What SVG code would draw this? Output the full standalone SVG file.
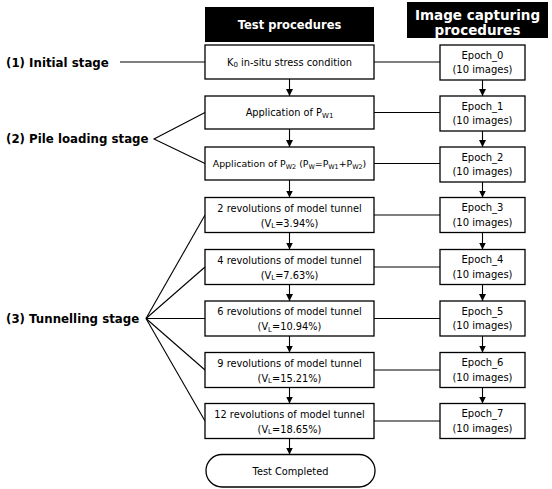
<svg xmlns="http://www.w3.org/2000/svg" width="552" height="489" viewBox="0 0 552 489">
<defs>
<marker id="ah" markerUnits="userSpaceOnUse" markerWidth="7" markerHeight="7" viewBox="0 0 7 7" refX="7" refY="3.5" orient="auto">
<path d="M0,0 L7,3.5 L0,7 Z" fill="#000"/>
</marker>
<style>
.box{fill:#fff;stroke:#000;stroke-width:1.3}
.hdr{fill:#000}
.ht{font-family:"DejaVu Sans",sans-serif;font-weight:bold;fill:#fff;text-anchor:middle}
.t{font-family:"DejaVu Sans",sans-serif;font-size:9.8px;fill:#000;text-anchor:middle}
.e{font-family:"DejaVu Sans",sans-serif;font-size:10px;fill:#000;text-anchor:middle}
.st{font-family:"DejaVu Sans",sans-serif;font-weight:bold;font-size:11.8px;fill:#000}
.sub{font-size:7px}
.ln{stroke:#000;stroke-width:1.1;fill:none}
.ar{stroke:#000;stroke-width:1.1;fill:none;marker-end:url(#ah)}
</style>
</defs>
<rect width="552" height="489" fill="#fff"/>

<g id="hdr-test">
<rect class="hdr" x="205" y="7" width="169" height="35"/>
<text class="ht" x="289.5" y="28.5" font-size="11.5">Test procedures</text>
</g>
<g id="hdr-image">
<rect class="hdr" x="407" y="2" width="141" height="36"/>
<text class="ht" x="477.5" y="19.5" font-size="13.5">Image capturing</text>
<text class="ht" x="477.5" y="34.5" font-size="13.5">procedures</text>
</g>

<g id="connectors">
<line class="ln" x1="120" y1="62" x2="205" y2="62"/>
<polyline class="ln" points="205,112.5 154,139 205,163.5"/>
<line class="ln" x1="146" y1="318.5" x2="205" y2="215"/>
<line class="ln" x1="146" y1="318.5" x2="205" y2="267"/>
<line class="ln" x1="146" y1="318.5" x2="205" y2="318.5"/>
<line class="ln" x1="146" y1="318.5" x2="205" y2="370"/>
<line class="ln" x1="146" y1="318.5" x2="205" y2="421"/>

<line class="ln" x1="374" y1="62" x2="440" y2="62"/>
<line class="ln" x1="374" y1="112.5" x2="440" y2="112.5"/>
<line class="ln" x1="374" y1="163.5" x2="440" y2="163.5"/>
<line class="ln" x1="374" y1="215" x2="440" y2="215"/>
<line class="ln" x1="374" y1="267" x2="440" y2="267"/>
<line class="ln" x1="374" y1="318.5" x2="440" y2="318.5"/>
<line class="ln" x1="374" y1="370" x2="440" y2="370"/>
<line class="ln" x1="374" y1="421" x2="440" y2="421"/>

<line class="ar" x1="289.5" y1="79" x2="289.5" y2="96"/>
<line class="ar" x1="289.5" y1="129" x2="289.5" y2="147"/>
<line class="ar" x1="289.5" y1="180" x2="289.5" y2="197.5"/>
<line class="ar" x1="289.5" y1="232.5" x2="289.5" y2="249.5"/>
<line class="ar" x1="289.5" y1="284.5" x2="289.5" y2="301"/>
<line class="ar" x1="289.5" y1="336" x2="289.5" y2="352.5"/>
<line class="ar" x1="289.5" y1="387.5" x2="289.5" y2="403.5"/>
<line class="ar" x1="289.5" y1="438.5" x2="289.5" y2="454.5"/>

<line class="ar" x1="482.5" y1="80" x2="482.5" y2="96"/>
<line class="ar" x1="482.5" y1="131" x2="482.5" y2="147"/>
<line class="ar" x1="482.5" y1="182" x2="482.5" y2="197.5"/>
<line class="ar" x1="482.5" y1="232.5" x2="482.5" y2="249.5"/>
<line class="ar" x1="482.5" y1="284.5" x2="482.5" y2="301"/>
<line class="ar" x1="482.5" y1="336" x2="482.5" y2="352.5"/>
<line class="ar" x1="482.5" y1="387.5" x2="482.5" y2="403.5"/>
</g>

<g id="stage1"><text class="st" x="6" y="66.5">(1) Initial stage</text></g>
<g id="stage2"><text class="st" x="6" y="143">(2) Pile loading stage</text></g>
<g id="stage3"><text class="st" x="6" y="322.5">(3) Tunnelling stage</text></g>

<g id="k0">
<rect class="box" x="205" y="45" width="169" height="34"/>
<text class="t" x="289.5" y="65.5">K<tspan class="sub" dy="1.5">0</tspan><tspan dy="-1.5"> in-situ stress condition</tspan></text>
</g>
<g id="pw1">
<rect class="box" x="205" y="96" width="169" height="33"/>
<text class="t" x="289.5" y="116">Application of P<tspan class="sub" dy="1.5">W1</tspan></text>
</g>
<g id="pw2">
<rect class="box" x="205" y="147" width="169" height="33"/>
<text class="t" x="289.5" y="167" style="font-size:9.4px">Application of P<tspan style="font-size:6.4px" dy="1.5">W2</tspan><tspan dy="-1.5"> (P</tspan><tspan style="font-size:6.4px" dy="1.5">W</tspan><tspan dy="-1.5">=P</tspan><tspan style="font-size:6.4px" dy="1.5">W1</tspan><tspan dy="-1.5">+P</tspan><tspan style="font-size:6.4px" dy="1.5">W2</tspan><tspan dy="-1.5">)</tspan></text>
</g>
<g id="rev2">
<rect class="box" x="205" y="197.5" width="169" height="35"/>
<text class="t" x="289.5" y="211.5">2 revolutions of model tunnel</text>
<text class="t" x="289.5" y="226.5">(V<tspan class="sub" dy="1.5">L</tspan><tspan dy="-1.5">=3.94%)</tspan></text>
</g>
<g id="rev4">
<rect class="box" x="205" y="249.5" width="169" height="35"/>
<text class="t" x="289.5" y="263.5">4 revolutions of model tunnel</text>
<text class="t" x="289.5" y="278.5">(V<tspan class="sub" dy="1.5">L</tspan><tspan dy="-1.5">=7.63%)</tspan></text>
</g>
<g id="rev6">
<rect class="box" x="205" y="301" width="169" height="35"/>
<text class="t" x="289.5" y="315">6 revolutions of model tunnel</text>
<text class="t" x="289.5" y="330">(V<tspan class="sub" dy="1.5">L</tspan><tspan dy="-1.5">=10.94%)</tspan></text>
</g>
<g id="rev9">
<rect class="box" x="205" y="352.5" width="169" height="35"/>
<text class="t" x="289.5" y="366.5">9 revolutions of model tunnel</text>
<text class="t" x="289.5" y="381.5">(V<tspan class="sub" dy="1.5">L</tspan><tspan dy="-1.5">=15.21%)</tspan></text>
</g>
<g id="rev12">
<rect class="box" x="205" y="403.5" width="169" height="35"/>
<text class="t" x="289.5" y="417.5">12 revolutions of model tunnel</text>
<text class="t" x="289.5" y="432.5">(V<tspan class="sub" dy="1.5">L</tspan><tspan dy="-1.5">=18.65%)</tspan></text>
</g>
<g id="done">
<rect class="box" x="206" y="454.5" width="169" height="32.5" rx="16" ry="16"/>
<text class="t" x="290.5" y="474.5">Test Completed</text>
</g>

<g id="epoch0"><rect class="box" x="440" y="45" width="85" height="35"/>
<text class="e" x="482.5" y="58.5">Epoch_0</text><text class="e" x="482.5" y="73">(10 images)</text></g>
<g id="epoch1"><rect class="box" x="440" y="96" width="85" height="35"/>
<text class="e" x="482.5" y="109.5">Epoch_1</text><text class="e" x="482.5" y="124">(10 images)</text></g>
<g id="epoch2"><rect class="box" x="440" y="147" width="85" height="35"/>
<text class="e" x="482.5" y="160.5">Epoch_2</text><text class="e" x="482.5" y="175">(10 images)</text></g>
<g id="epoch3"><rect class="box" x="440" y="197.5" width="85" height="35"/>
<text class="e" x="482.5" y="211">Epoch_3</text><text class="e" x="482.5" y="225.5">(10 images)</text></g>
<g id="epoch4"><rect class="box" x="440" y="249.5" width="85" height="35"/>
<text class="e" x="482.5" y="263">Epoch_4</text><text class="e" x="482.5" y="277.5">(10 images)</text></g>
<g id="epoch5"><rect class="box" x="440" y="301" width="85" height="35"/>
<text class="e" x="482.5" y="314.5">Epoch_5</text><text class="e" x="482.5" y="329">(10 images)</text></g>
<g id="epoch6"><rect class="box" x="440" y="352.5" width="85" height="35"/>
<text class="e" x="482.5" y="366">Epoch_6</text><text class="e" x="482.5" y="380.5">(10 images)</text></g>
<g id="epoch7"><rect class="box" x="440" y="403.5" width="85" height="35"/>
<text class="e" x="482.5" y="417">Epoch_7</text><text class="e" x="482.5" y="431.5">(10 images)</text></g>
</svg>
